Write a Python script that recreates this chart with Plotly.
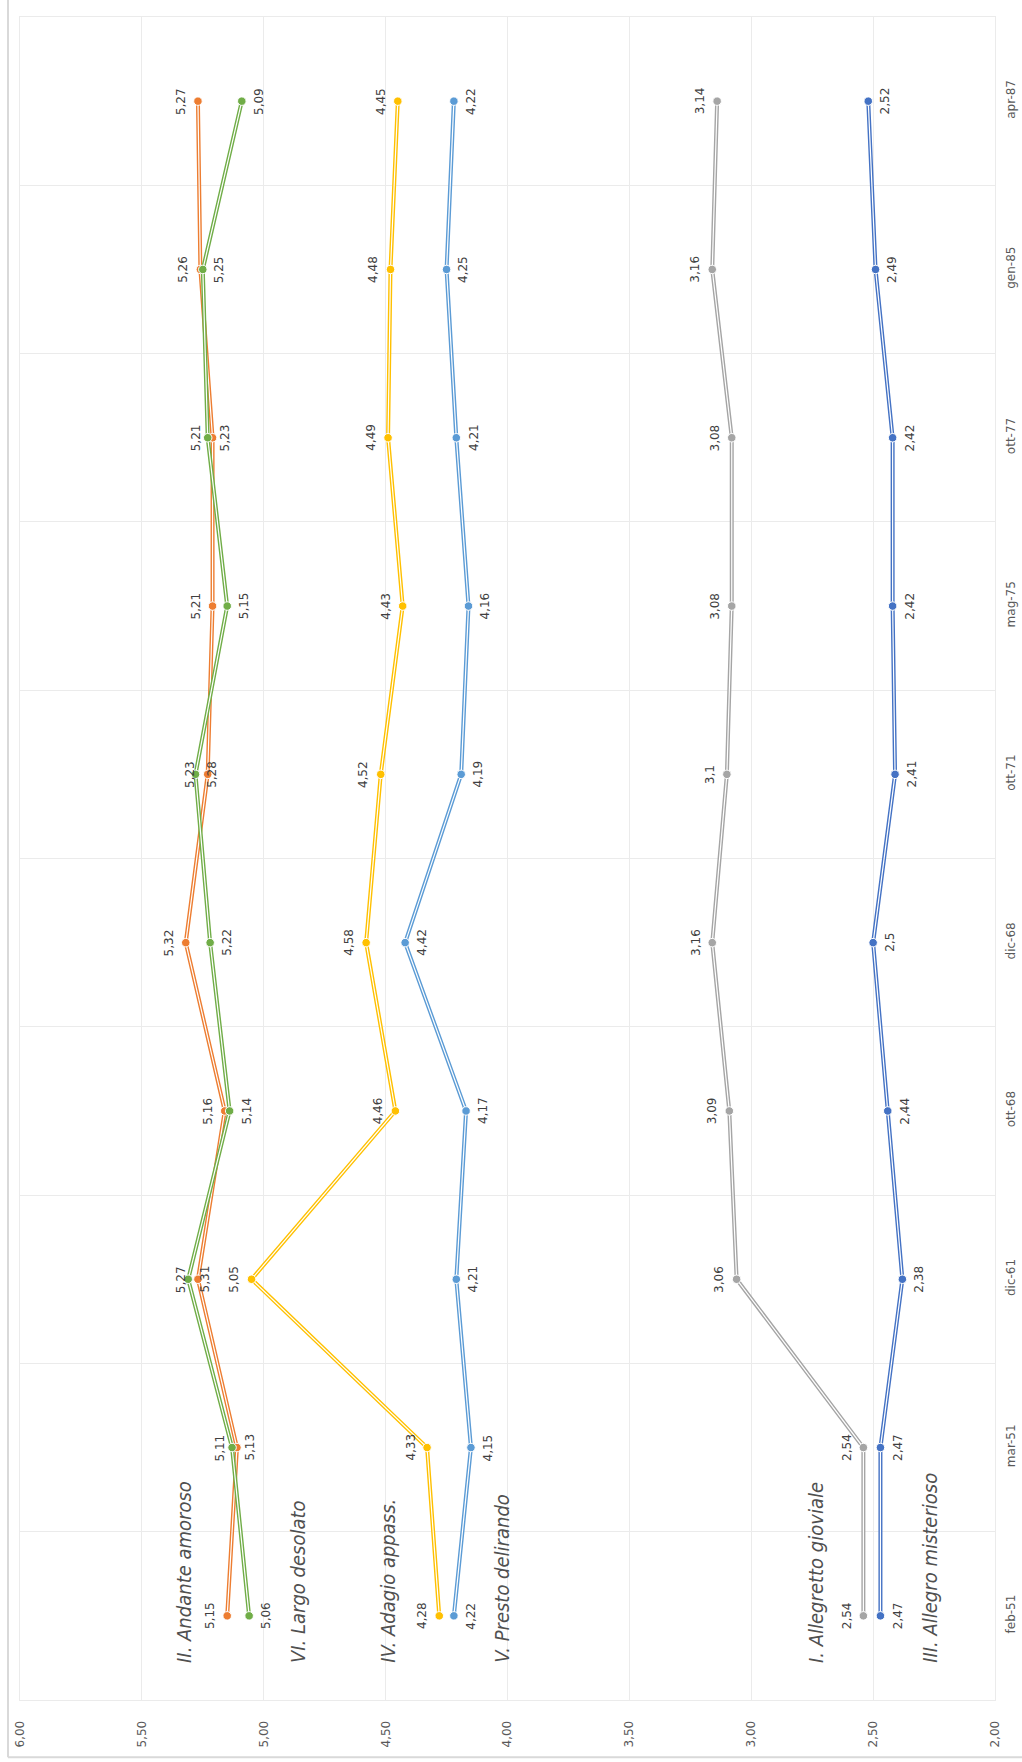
import plotly.graph_objects as go

categories = ["feb-51", "mar-51", "dic-61", "ott-68", "dic-68", "ott-71", "mag-75", "ott-77", "gen-85", "apr-87"]

s_andante = [5.15, 5.11, 5.27, 5.16, 5.32, 5.23, 5.21, 5.21, 5.26, 5.27]
s_largo = [5.06, 5.13, 5.31, 5.14, 5.22, 5.28, 5.15, 5.23, 5.25, 5.09]
s_adagio = [4.28, 4.33, 5.05, 4.46, 4.58, 4.52, 4.43, 4.49, 4.48, 4.45]
s_presto = [4.22, 4.15, 4.21, 4.17, 4.42, 4.19, 4.16, 4.21, 4.25, 4.22]
s_allegretto = [2.54, 2.54, 3.06, 3.09, 3.16, 3.10, 3.08, 3.08, 3.16, 3.14]
s_allegro = [2.47, 2.47, 2.38, 2.44, 2.50, 2.41, 2.42, 2.42, 2.49, 2.52]

names = ["II. Andante amoroso", "VI. Largo desolato", "IV. Adagio appass.",
         "V. Presto delirando", "I. Allegretto gioviale", "III. Allegro misterioso"]
series = [s_andante, s_largo, s_adagio, s_presto, s_allegretto, s_allegro]
colors = ["#ED7D31", "#70AD47", "#FFC000", "#5B9BD5", "#A5A5A5", "#4472C4"]
label_side = [-1, 1, -1, 1, -1, 1]          # data labels left/right of point
name_pos = [5.33, 4.86, 4.49, 4.02, 2.735, 2.27]  # x position (value) of series name text

fig = go.Figure()
annotations = []

def fmt(v):
    s = ("%.2f" % v).rstrip("0").rstrip(".")
    return s.replace(".", ",")

for name, vals, col, side in zip(names, series, colors, label_side):
    fig.add_trace(go.Scatter(x=vals, y=categories, mode="lines",
                             line=dict(color=col, width=4), showlegend=False, hoverinfo="skip"))
    fig.add_trace(go.Scatter(x=vals, y=categories, mode="lines",
                             line=dict(color="white", width=1.2), showlegend=False, hoverinfo="skip"))
    fig.add_trace(go.Scatter(x=vals, y=categories, mode="markers", name=name,
                             marker=dict(color=col, size=8.5, line=dict(color="white", width=1)),
                             showlegend=False))
    for v, c in zip(vals, categories):
        annotations.append(dict(x=v, y=c, xref="x", yref="y", text=fmt(v), showarrow=False,
                                textangle=-90, xshift=17 * side, xanchor="center", yanchor="middle",
                                font=dict(family="DejaVu Sans", size=12, color="#404040")))

for name, xp in zip(names, name_pos):
    annotations.append(dict(x=xp, y=0.021, xref="x", yref="paper", text=name, showarrow=False,
                            textangle=-90, xanchor="center", yanchor="bottom",
                            font=dict(family="Liberation Sans Narrow, DejaVu Sans Condensed, Open Sans",
                                      size=20, color="#505050", style="italic")))

fig.update_layout(
    width=1022, height=1762,
    margin=dict(l=20, r=27, t=17, b=62),
    paper_bgcolor="white", plot_bgcolor="white",
    separators=",.",
    annotations=annotations,
    shapes=[
        dict(type="line", xref="paper", yref="paper", x0=-0.0123, x1=-0.0123, y0=-0.034, y1=1.02,
             line=dict(color="#d9d9d9", width=2)),
        dict(type="line", xref="paper", yref="paper", x0=-0.0123, x1=1.04, y0=-0.034, y1=-0.034,
             line=dict(color="#d9d9d9", width=2)),
    ],
)

fig.update_xaxes(range=[6, 2], dtick=0.5, tick0=2, tickformat=".2f", tickangle=-90,
                 showgrid=True, gridcolor="#ebebeb", gridwidth=1, zeroline=False,
                 showline=True, linecolor="#ebebeb", mirror=True, automargin=False,
                 ticks="", ticklabelstandoff=15,
                 tickfont=dict(family="DejaVu Sans", size=12, color="#595959"))
fig.update_yaxes(type="category", categoryorder="array", categoryarray=categories,
                 range=[-0.5, 9.5], side="right", tickangle=-90, tickson="boundaries",
                 showgrid=True, gridcolor="#ebebeb", gridwidth=1, zeroline=False,
                 showline=True, linecolor="#ebebeb", mirror=True, automargin=False,
                 ticks="", ticklabelstandoff=5,
                 tickfont=dict(family="DejaVu Sans", size=12, color="#595959"))

fig.write_html("out.html")
